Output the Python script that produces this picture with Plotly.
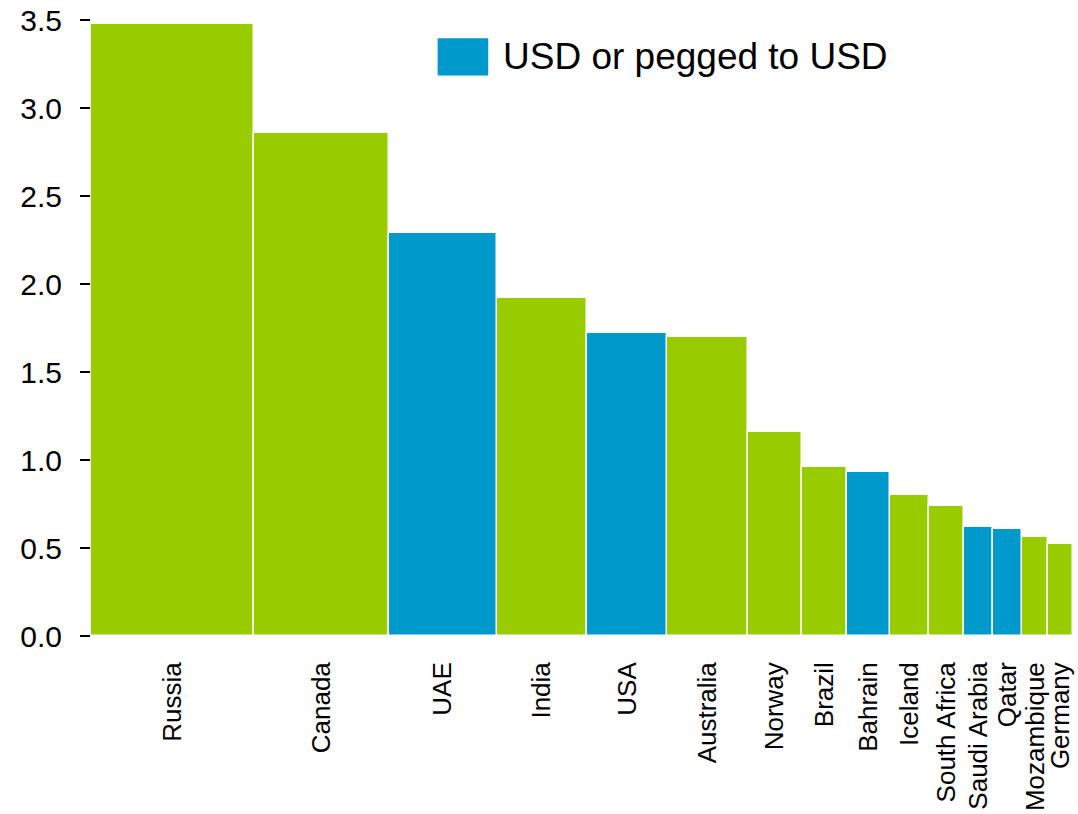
import numpy as np
import plotly.graph_objects as go

# Countries, bar heights and relative bar widths (share of total width, %)
countries = ["Russia", "Canada", "UAE", "India", "USA", "Australia", "Norway",
             "Brazil", "Bahrain", "Iceland", "South Africa", "Saudi Arabia",
             "Qatar", "Mozambique", "Germany"]
values = [3.48, 2.86, 2.29, 1.92, 1.72, 1.70, 1.16, 0.96, 0.93, 0.80,
          0.74, 0.62, 0.61, 0.56, 0.52]
widths = [16.6, 13.7, 11.0, 9.2, 8.2, 8.2, 5.5, 4.6, 4.4, 3.9,
          3.6, 3.0, 2.9, 2.7, 2.5]
usd_linked = [False, False, True, False, True, False, False, False, True,
              False, False, True, True, False, False]
y_ticks = [0.0, 0.5, 1.0, 1.5, 2.0, 2.5, 3.0, 3.5]
legend_label = "USD or pegged to USD"

GREEN = "#99CC00"
BLUE = "#0099CC"
FONT = "Liberation Sans, Arial, sans-serif"

w = np.array(widths, dtype=float)
left_edges = np.concatenate([[0.0], np.cumsum(w)[:-1]])
centers = left_edges + w / 2
total = float(w.sum())

fig = go.Figure()
for flag, color, name in [(False, GREEN, "Other"), (True, BLUE, legend_label)]:
    idx = [i for i, f in enumerate(usd_linked) if f == flag]
    fig.add_trace(go.Bar(
        x=[centers[i] for i in idx],
        y=[values[i] for i in idx],
        width=[widths[i] for i in idx],
        marker=dict(color=color, line=dict(color="white", width=1.5)),
        name=name,
        showlegend=False,
        hovertext=[countries[i] for i in idx],
    ))

# Legend swatch and caption for the USD group
fig.add_shape(type="rect", xref="paper", yref="paper",
              x0=0.353, x1=0.4045, y0=0.9097, y1=0.9703,
              fillcolor=BLUE, line=dict(width=0))
fig.add_annotation(xref="paper", yref="paper", x=0.4174, y=0.94,
                   text=legend_label, showarrow=False,
                   xanchor="left", yanchor="middle",
                   font=dict(family=FONT, size=37, color="black"))

fig.update_layout(
    width=1078, height=814,
    margin=dict(l=91, r=3, t=20, b=177),
    paper_bgcolor="white", plot_bgcolor="white",
    barmode="overlay", bargap=0,
    font=dict(family=FONT, color="black"),
    showlegend=False,
)
fig.update_xaxes(
    range=[0, total],
    tickmode="array", tickvals=list(centers), ticktext=countries,
    tickangle=-90, tickfont=dict(size=26, color="black"),
    ticks="", showline=False, showgrid=False, zeroline=False,
    ticklabelstandoff=20,
)
fig.update_yaxes(
    range=[0, 3.5],
    tickmode="array", tickvals=y_ticks,
    ticktext=[f"{v:.1f}" for v in y_ticks],
    tickfont=dict(size=30, color="black"),
    ticks="outside", ticklen=10, tickwidth=2, tickcolor="black",
    showline=True, linecolor="#eeeeee", linewidth=1,
    showgrid=False, zeroline=False,
    ticklabelstandoff=12,
)

fig.write_html("out.html")
